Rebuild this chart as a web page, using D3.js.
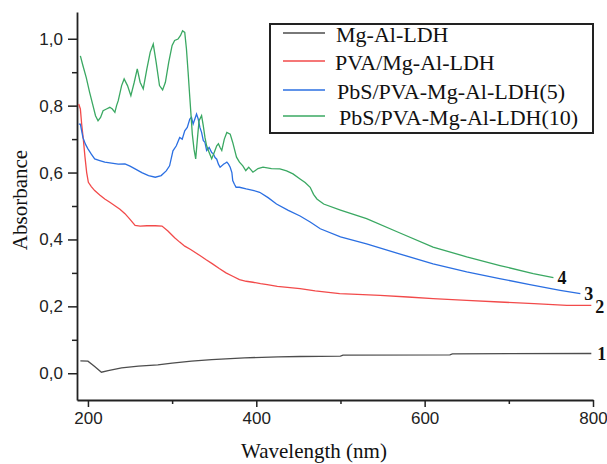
<!DOCTYPE html>
<meta charset="utf-8">
<style>
    body { margin: 0; background: #fff; }
    .tick text { font-family: "Liberation Sans", Arial, sans-serif; font-size: 17px; fill: #222; }
    .axis path, .axis line { stroke: #222; }
    .curve { fill: none; stroke-width: 1.3; }
    .serif { font-family: "Liberation Serif", "Times New Roman", serif; fill: #111; }
</style>
<svg width="607" height="464"></svg>
<script src="https://cdn.jsdelivr.net/npm/d3@7"></script>
<script>
    // values
    var seriesNames = ["Mg-Al-LDH", "PVA/Mg-Al-LDH", "PbS/PVA-Mg-Al-LDH(5)", "PbS/PVA-Mg-Al-LDH(10)"];
    var curveLabels = ["1", "2", "3", "4"];
    var colors = ["#4d4d4d", "#f24a4a", "#2b6fe2", "#3aa862"];

    var xTicks = [200, 400, 600, 800];
    var xMinor = [300, 500, 700];
    var yTicks = [0, 0.2, 0.4, 0.6, 0.8, 1.0];
    var yMinor = [0.1, 0.3, 0.5, 0.7, 0.9];

    var wl1 = [191, 200, 208, 216, 224, 240, 260, 283, 300, 323, 347, 386, 426, 452, 500, 503, 630, 633, 798];
    var abs1 = [0.037, 0.036, 0.02, 0.003, 0.008, 0.016, 0.021, 0.025, 0.030, 0.036, 0.041, 0.046, 0.049, 0.050, 0.051, 0.054, 0.055, 0.058, 0.059];

    var wl2 = [189, 191, 192.5, 194.5, 196.5, 198.5, 200.5, 204, 208, 214, 220, 226, 232, 238, 244, 250, 256, 262, 270, 280, 288, 295, 303, 309, 315, 322, 333, 340, 348, 356, 364, 372, 380, 388, 396, 405, 413, 425, 440, 452, 470, 499, 520, 547, 580, 610, 650, 689, 730, 769, 798];
    var abs2 = [0.805, 0.79, 0.746, 0.70, 0.646, 0.60, 0.571, 0.558, 0.546, 0.533, 0.521, 0.511, 0.501, 0.49, 0.477, 0.46, 0.442, 0.44, 0.441, 0.441, 0.44, 0.425, 0.405, 0.392, 0.38, 0.37, 0.352, 0.34, 0.327, 0.313, 0.30, 0.29, 0.28, 0.275, 0.272, 0.268, 0.265, 0.26, 0.256, 0.253, 0.246, 0.238, 0.236, 0.233, 0.228, 0.223, 0.218, 0.213, 0.208, 0.203, 0.203];

    var wl3 = [189, 191, 194, 197, 200, 204, 208, 214, 220, 228, 236, 244, 250, 256, 264, 272, 280, 287, 293, 297, 301, 305, 309, 312, 315, 318, 321, 323, 325, 327, 329, 331, 333, 335, 337, 339, 341, 344, 347, 349, 351, 353, 355, 357, 359, 361, 363, 365, 367, 369, 371, 372, 374, 376, 380, 388, 396, 404, 414, 424, 438, 452, 464, 476, 500, 531, 570, 610, 650, 689, 725, 761, 785];
    var abs3 = [0.745, 0.745, 0.705, 0.685, 0.671, 0.655, 0.641, 0.636, 0.631, 0.628, 0.625, 0.626, 0.619, 0.611, 0.60, 0.591, 0.586, 0.591, 0.605, 0.62, 0.665, 0.68, 0.705, 0.70, 0.725, 0.735, 0.76, 0.765, 0.745, 0.76, 0.775, 0.76, 0.735, 0.72, 0.696, 0.69, 0.666, 0.675, 0.66, 0.656, 0.645, 0.64, 0.625, 0.616, 0.62, 0.625, 0.628, 0.631, 0.625, 0.616, 0.60, 0.576, 0.565, 0.556, 0.556, 0.551, 0.547, 0.541, 0.525, 0.506, 0.487, 0.47, 0.452, 0.432, 0.408, 0.387, 0.357, 0.327, 0.303, 0.283, 0.265, 0.248, 0.238];

    var wl4 = [191, 194, 198, 202, 206, 209, 212, 215, 218, 222, 226, 229, 232, 234, 236, 240, 243, 247, 251, 255, 258.6, 262, 265.7, 270, 274, 277.6, 281, 285, 288.7, 292, 296, 300, 303, 307, 310, 312.4, 315, 317, 319, 321, 324, 326, 328, 330, 332, 335, 337, 339, 341, 344, 347, 350, 353, 355, 357, 359, 362, 365, 369, 372, 376.5, 380, 384, 387.5, 391, 396, 402, 408, 418, 428, 436, 443.6, 452, 458, 464, 468, 472, 480, 500, 531, 570, 610, 650, 689.5, 729, 753];
    var abs4 = [0.949, 0.92, 0.884, 0.84, 0.80, 0.77, 0.755, 0.765, 0.785, 0.79, 0.795, 0.79, 0.78, 0.80, 0.815, 0.86, 0.88, 0.86, 0.83, 0.87, 0.91, 0.87, 0.85, 0.91, 0.96, 0.984, 0.93, 0.86, 0.847, 0.87, 0.93, 0.98, 0.995, 0.999, 1.01, 1.024, 1.019, 0.97, 0.90, 0.825, 0.715, 0.67, 0.641, 0.70, 0.755, 0.77, 0.74, 0.705, 0.68, 0.66, 0.641, 0.66, 0.68, 0.686, 0.675, 0.666, 0.70, 0.72, 0.715, 0.69, 0.646, 0.631, 0.62, 0.606, 0.616, 0.601, 0.612, 0.616, 0.612, 0.611, 0.605, 0.596, 0.581, 0.57, 0.556, 0.535, 0.521, 0.506, 0.488, 0.462, 0.42, 0.377, 0.348, 0.322, 0.298, 0.286];

    var series = [[wl1, abs1], [wl2, abs2], [wl3, abs3], [wl4, abs4]].map(function (s, i) {
        return {
            name: seriesNames[i],
            color: colors[i],
            label: curveLabels[i],
            values: s[0].map(function (w, j) { return { wl: w, a: s[1][j] }; })
        };
    });

    var svg = d3.select("svg");

    var x = d3.scaleLinear().domain([187, 800]).range([77, 593]),
        y = d3.scaleLinear().domain([-0.08, 1.08]).range([400, 12]);

    var fmt = function (d) { return d3.format(".1f")(d).replace(".", ","); };

    // minor ticks first, then main axes on top
    svg.append("g")
        .attr("class", "axis")
        .attr("transform", "translate(0,400)")
        .call(d3.axisBottom(x).tickValues(xMinor).tickSize(4).tickSizeOuter(0).tickFormat(""))
        .select(".domain").remove();
    svg.append("g")
        .attr("class", "axis")
        .attr("transform", "translate(77,0)")
        .call(d3.axisLeft(y).tickValues(yMinor).tickSize(5).tickSizeOuter(0).tickFormat(""))
        .select(".domain").remove();

    svg.append("g")
        .attr("class", "axis")
        .attr("transform", "translate(0,400)")
        .call(d3.axisBottom(x).tickValues(xTicks).tickSize(7).tickSizeOuter(0).tickPadding(5));
    svg.append("g")
        .attr("class", "axis")
        .attr("transform", "translate(77,0)")
        .call(d3.axisLeft(y).tickValues(yTicks).tickSize(9).tickSizeOuter(0).tickPadding(5).tickFormat(fmt));

    svg.selectAll(".axis .domain").attr("stroke-width", 1.8);
    svg.selectAll(".axis line").attr("stroke-width", 1.5);

    var line = d3.line()
        .x(function (d) { return x(d.wl); })
        .y(function (d) { return y(d.a); });

    svg.selectAll(".curve")
        .data(series)
        .enter().append("path")
        .attr("class", "curve")
        .attr("stroke", function (d) { return d.color; })
        .attr("d", function (d) { return line(d.values); });

    // numbers at line ends
    var endOffsets = [[6, 6], [4, 8], [4, 6], [4, 6]];
    svg.selectAll(".endlabel")
        .data(series)
        .enter().append("text")
        .attr("class", "serif endlabel")
        .attr("x", function (d, i) { var v = d.values[d.values.length - 1]; return x(v.wl) + endOffsets[i][0]; })
        .attr("y", function (d, i) { var v = d.values[d.values.length - 1]; return y(v.a) + endOffsets[i][1]; })
        .style("font-size", "18px")
        .style("font-weight", "bold")
        .text(function (d) { return d.label; });

    // legend
    var legend = svg.append("g");
    legend.append("rect")
        .attr("x", 270).attr("y", 24)
        .attr("width", 323).attr("height", 109)
        .attr("fill", "none").attr("stroke", "#222").attr("stroke-width", 2);

    var rowY = [42, 70, 99, 125],
        textX = [336, 335, 337, 339];
    series.forEach(function (s, i) {
        legend.append("line")
            .attr("x1", 283).attr("x2", 325)
            .attr("y1", rowY[i] - 9).attr("y2", rowY[i] - 9)
            .attr("stroke", s.color).attr("stroke-width", 1.3);
        legend.append("text")
            .attr("class", "serif")
            .attr("x", textX[i]).attr("y", rowY[i])
            .style("font-size", "22px")
            .text(s.name);
    });

    // axis titles
    svg.append("text")
        .attr("class", "serif")
        .attr("x", 314).attr("y", 458)
        .attr("text-anchor", "middle")
        .style("font-size", "21px")
        .text("Wavelength (nm)");
    svg.append("text")
        .attr("class", "serif")
        .attr("transform", "translate(27,200) rotate(-90)")
        .attr("text-anchor", "middle")
        .style("font-size", "21px")
        .text("Absorbance");
</script>
